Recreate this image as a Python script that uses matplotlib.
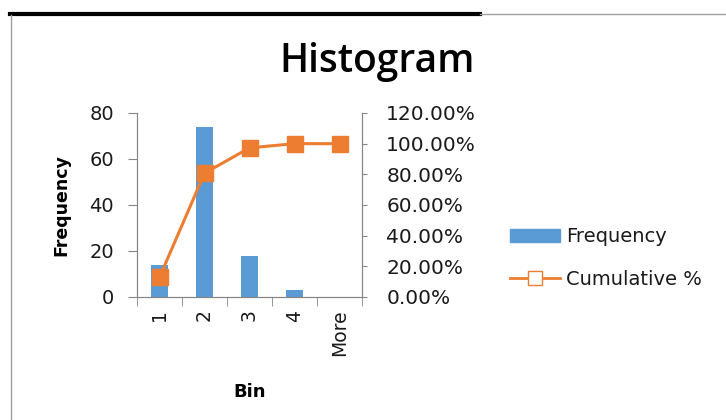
import numpy as np
import matplotlib
matplotlib.use('Agg')
import matplotlib.pyplot as plt
from matplotlib.lines import Line2D
from matplotlib.patches import Patch
from matplotlib.ticker import FuncFormatter

blue = '#5B9BD5'
orange = '#ED7D31'
gray = '#868686'

bins = ['1', '2', '3', '4', 'More']
frequency = [14, 74, 18, 3, 0]
cumulative = [12.84, 80.73, 97.25, 100.0, 100.0]

fig = plt.figure(figsize=(7.26, 4.2), dpi=100)

# frame lines of the chart object
fig.add_artist(Line2D([10/726, 480/726], [1-14/420, 1-14/420], color='black', lw=3))
fig.add_artist(Line2D([480/726, 1.0], [1-14/420, 1-14/420], color='#a0a0a0', lw=1))
fig.add_artist(Line2D([11/726, 11/726], [0, 1-15/420], color='#a0a0a0', lw=1))

ax0 = fig.add_axes([137/726, 1-297/420, 225/726, 184/420])
ax1 = ax0.twinx()

index = np.arange(len(bins))
ax0.bar(index, frequency, 0.38, color=blue, zorder=2)
ax1.plot(index, cumulative, color=orange, lw=2.2, marker='s', markersize=12,
         markeredgecolor=orange, zorder=3)

ax0.set_xlim(-0.5, len(bins) - 0.5)
ax0.set_ylim(0, 80)
ax1.set_ylim(0, 120)
ax0.set_yticks(np.arange(0, 81, 20))
ax1.set_yticks(np.arange(0, 121, 20))
ax1.yaxis.set_major_formatter(FuncFormatter(lambda v, p: '%.2f%%' % v))

ax0.set_xticks(index)
ax0.set_xticklabels(bins, rotation=90)
ax0.set_xticks(np.arange(-0.5, len(bins), 1), minor=True)
ax0.tick_params(axis='x', which='major', length=0, labelsize=13.5, pad=9)
ax0.tick_params(axis='x', which='minor', length=6.5, color=gray, direction='out')
ax0.tick_params(axis='y', labelsize=14, length=6.5, color=gray, pad=10,
                labelcolor='#1a1a1a')
ax1.tick_params(axis='y', labelsize=14.5, length=3.5, color=gray, pad=14,
                labelcolor='#1a1a1a')
ax0.tick_params(axis='x', labelcolor='#1a1a1a')

for ax in (ax0, ax1):
    ax.spines['top'].set_visible(False)
    for s in ('left', 'right', 'bottom'):
        ax.spines[s].set_color(gray)
ax0.set_zorder(ax1.get_zorder() - 1)
ax1.patch.set_visible(False)

ax0.set_ylabel('Frequency', fontsize=12.5, fontweight='bold', labelpad=14)
ax0.set_xlabel('Bin', fontsize=13, fontweight='bold', labelpad=19)

fig.text(377/726, 1-62/420, 'Histogram', ha='center', va='center',
         fontsize=28, family='Open Sans', fontweight='semibold')

handles = [Patch(color=blue, label='Frequency'),
           Line2D([], [], color=orange, lw=2, marker='s', markersize=10,
                  markerfacecolor='white', markeredgecolor=orange,
                  label='Cumulative %')]
fig.legend(handles=handles, loc='center left', bbox_to_anchor=(492/726, 1-258/420),
           frameon=False, fontsize=14, handlelength=2.6, handletextpad=0.3,
           labelspacing=1.2, labelcolor='#1a1a1a')

plt.savefig('out.png', dpi=100)
